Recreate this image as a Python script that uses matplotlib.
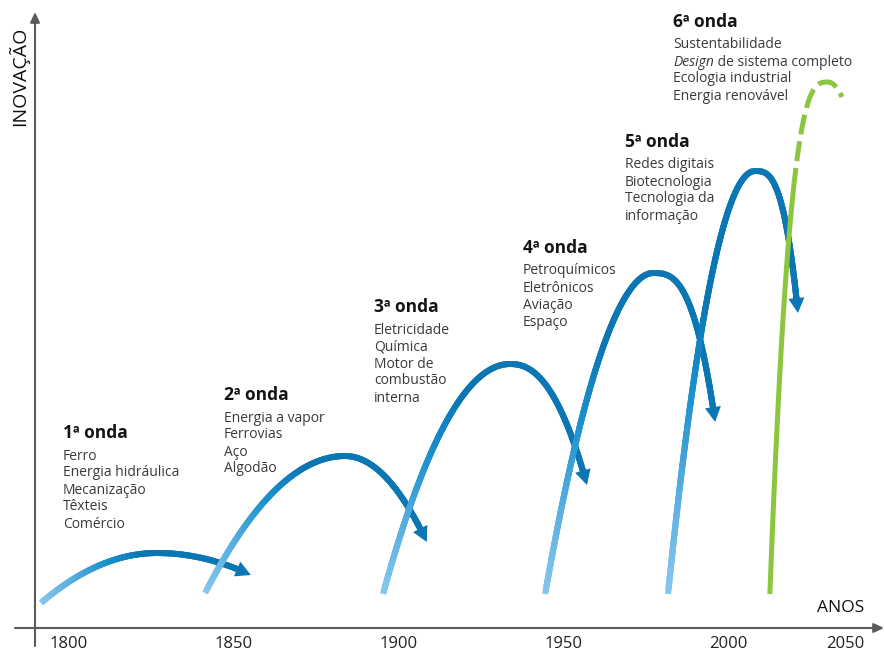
import numpy as np
import matplotlib
matplotlib.use("Agg")
import matplotlib.pyplot as plt
from matplotlib.collections import LineCollection
from matplotlib.colors import LinearSegmentedColormap
from matplotlib.patches import FancyArrowPatch

# ---------------- data ----------------
wave_titles = ["1ª onda", "2ª onda", "3ª onda", "4ª onda", "5ª onda", "6ª onda"]
wave_items = [
    ["Ferro", "Energia hidráulica", "Mecanização", "Têxteis", "Comércio"],
    ["Energia a vapor", "Ferrovias", "Aço", "Algodão"],
    ["Eletricidade", "Química", "Motor de", "combustão", "interna"],
    ["Petroquímicos", "Eletrônicos", "Aviação", "Espaço"],
    ["Redes digitais", "Biotecnologia", "Tecnologia da", "informação"],
    ["Sustentabilidade", "Design de sistema completo", "Ecologia industrial", "Energia renovável"],
]
start_year = [1791.5, 1841.3, 1895.3, 1944.5, 1981.8, 2017.9]
peak_year = [1826.7, 1883.8, 1933.8, 1977.2, 2011.5, 2042.7]
end_year = [1855.2, 1908.6, 1957.2, 1996.1, 2029.9, 2048.7]
start_level = [25, 35, 34, 34, 34, 34]
peak_level = [75, 172, 264, 355, 457, 546]
end_level = [53, 86, 143, 206, 315, 531]
rise_shape = [2.0, 2.0, 2.0, 1.9, 2.0, 3.0]
fall_shape = [2.0, 2.0, 2.3, 2.9, 3.0, 2.0]
projection_level = 445          # 6th wave is dashed (projection) above this level
tick_years = [1800, 1850, 1900, 1950, 2000, 2050]
tick_labels = ["1800", "1850", "1900", "1950", "2000", "2050"]

# ---------------- layout / style ----------------
W, H = 884, 650
AX_LEFT_PX, AX_BASE_PX = 35, 628
text_pos_px = [(63, 438), (224, 400), (374, 312), (523, 253), (625, 147), (673, 27)]
ITEM_OFF, ITEM_STEP = 21.5, 17
FONT = "Open Sans"
LIGHT, DARK, GREEN = "#86c7ed", "#0a76b3", "#8cc63f"
AXIS_COL = "#5a5a5a"
ITEM_COL, TITLE_COL = "#3a3a3a", "#141414"
LW_PX = 6.0
HEAD_LEN_PX, HEAD_HALF_W_PX = 15.0, 8.0


def fwd(y):
    y = np.asarray(y, dtype=float)
    return np.where(y <= 2000, 69 + (y - 1800) * 3.295, 728 + (y - 2000) * 2.34)


def inv(p):
    p = np.asarray(p, dtype=float)
    return np.where(p <= 728, 1800 + (p - 69) / 3.295, 2000 + (p - 728) / 2.34)


px2pt = 72.0 / 100.0

fig = plt.figure(figsize=(W / 100, H / 100), dpi=100)
ax = fig.add_axes([AX_LEFT_PX / W, (H - AX_BASE_PX) / H, (W - AX_LEFT_PX) / W, AX_BASE_PX / H])
ax.set_xscale("function", functions=(fwd, inv))
ax.set_xlim(float(inv(AX_LEFT_PX)), float(inv(W)))
ax.set_ylim(0, AX_BASE_PX)
for s in ax.spines.values():
    s.set_visible(False)
ax.set_yticks([])
ax.set_xticks(tick_years, tick_labels, fontsize=12, color="#222222", family=FONT)
ax.tick_params(axis="x", length=0, pad=5.5)

# axes with arrowheads
ftr = fig.transFigure
ax_arrow_style = "-|>,head_length=6,head_width=2.8"
fig.patches.append(FancyArrowPatch((15 / W, (H - AX_BASE_PX) / H), (1.0, (H - AX_BASE_PX) / H),
                                   transform=ftr, arrowstyle=ax_arrow_style, mutation_scale=1,
                                   color=AXIS_COL, lw=1.5, shrinkA=0, shrinkB=0))
fig.patches.append(FancyArrowPatch((AX_LEFT_PX / W, 4 / H), (AX_LEFT_PX / W, 1 - 12 / H),
                                   transform=ftr, arrowstyle=ax_arrow_style, mutation_scale=1,
                                   color=AXIS_COL, lw=1.5, shrinkA=0, shrinkB=0))

ax.set_xlabel("ANOS", fontsize=12.5, family=FONT, color="#111111")
ax.xaxis.set_label_coords(841 / W, 1 - 608 / H, transform=ftr)
ax.xaxis.label.set_va("center")
ax.set_ylabel("INOVAÇÃO", fontsize=14, family=FONT, color="#111111")
ax.yaxis.set_label_coords(18.5 / W, 1 - 76 / H, transform=ftr)
ax.yaxis.label.set_va("center")

cmap = LinearSegmentedColormap.from_list(
    "wave", [(0.0, LIGHT), (0.18, "#55acdf"), (0.34, "#1991ce"), (0.50, DARK), (1.0, DARK)])


def wave_curve(i, n=300):
    p0, pp, p1 = fwd(start_year[i]), fwd(peak_year[i]), fwd(end_year[i])
    y0, yp, y1 = start_level[i], peak_level[i], end_level[i]
    u_r = np.linspace(p0, pp, n)
    y_r = yp - (yp - y0) * np.abs((u_r - pp) / (p0 - pp)) ** rise_shape[i]
    u_f = np.linspace(pp, p1, n)[1:]
    y_f = yp - (yp - y1) * np.abs((u_f - pp) / (p1 - pp)) ** fall_shape[i]
    u = np.concatenate([u_r, u_f])
    yv = np.concatenate([y_r, y_f])
    d = np.hypot(np.diff(u), np.diff(yv))
    arc = np.concatenate([[0], np.cumsum(d)])
    return u, yv, arc


for i in range(len(wave_titles)):
    u, yv, arc = wave_curve(i)
    L = arc[-1]
    if i < 5:
        keep = arc <= L - HEAD_LEN_PX + 3
        uk, yk, ak = u[keep], yv[keep], arc[keep]
        xs = inv(uk)
        pts = np.column_stack([xs, yk])
        step = 3  # overlapping segments hide antialiasing seams
        idx_end = np.minimum(np.arange(len(pts) - 1) + step, len(pts) - 1)
        segs = np.stack([pts[:-1], pts[idx_end]], axis=1)
        frac = ak[:-1] / L
        lc = LineCollection(segs, colors=cmap(frac), linewidths=LW_PX * px2pt,
                            capstyle="butt", joinstyle="round", zorder=2 + i, clip_on=False)
        ax.add_collection(lc)
        j = np.searchsorted(arc, L - HEAD_LEN_PX)
        arr = FancyArrowPatch((float(inv(u[j])), yv[j]), (float(inv(u[-1])), yv[-1]),
                              arrowstyle="-|>,head_length=%.2f,head_width=%.2f"
                              % (HEAD_LEN_PX * px2pt, HEAD_HALF_W_PX * px2pt),
                              mutation_scale=1, color=DARK, lw=0, shrinkA=0, shrinkB=0,
                              zorder=2 + i, clip_on=False)
        ax.add_patch(arr)
    else:
        xs = inv(u)
        solid = yv <= projection_level
        k = np.argmax(~solid)
        ax.plot(xs[:k + 1], yv[:k + 1], color=GREEN, lw=5 * px2pt, solid_capstyle="butt",
                zorder=2 + i, clip_on=False)
        ax.plot(xs[k:], yv[k:], color=GREEN, lw=5 * px2pt, linestyle=(1.0, (4.0, 1.4)),
                dash_capstyle="butt", zorder=2 + i, clip_on=False)

# text blocks
for i, (title, items) in enumerate(zip(wave_titles, wave_items)):
    tx, ty = text_pos_px[i]
    fig.text(tx / W, 1 - ty / H, title, fontsize=12.5, fontweight="bold", family=FONT,
             color=TITLE_COL, va="baseline", ha="left")
    for k, item in enumerate(items):
        yb = 1 - (ty + ITEM_OFF + ITEM_STEP * k) / H
        if item.startswith("Design "):
            t1 = fig.text(tx / W, yb, "Design", fontsize=10, style="italic", family=FONT,
                          color=ITEM_COL, va="baseline", ha="left")
            ax.annotate(item[len("Design"):], xy=(1, 0), xycoords=t1, fontsize=10,
                        family=FONT, color=ITEM_COL, va="bottom", ha="left",
                        annotation_clip=False)
        else:
            fig.text(tx / W, yb, item, fontsize=10, family=FONT, color=ITEM_COL,
                     va="baseline", ha="left")

fig.savefig("out.png", dpi=100)
